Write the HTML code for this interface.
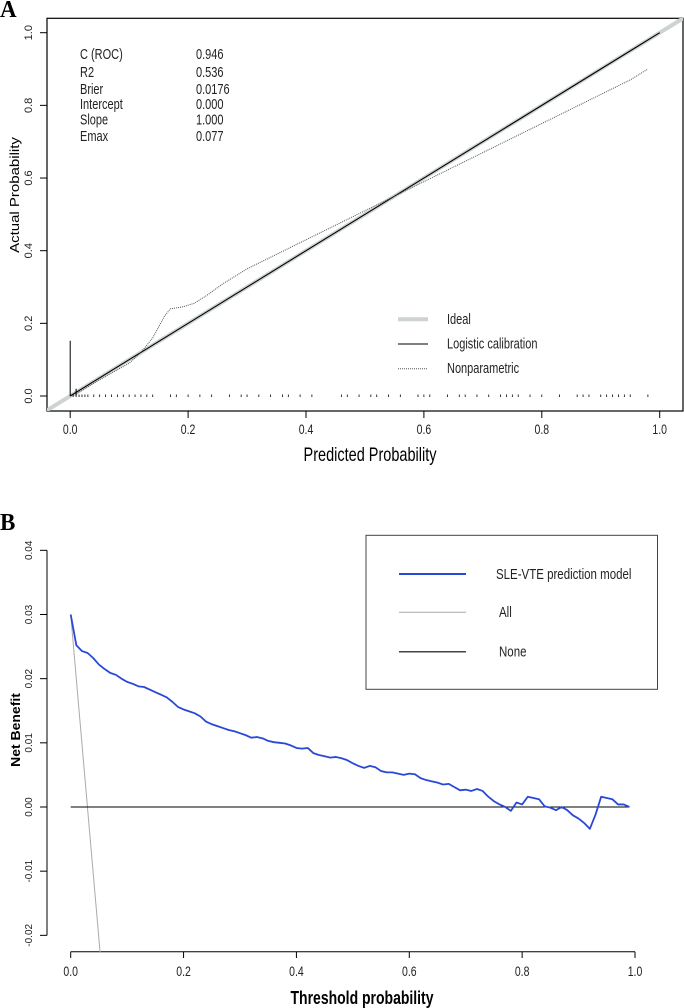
<!DOCTYPE html>
<html><head><meta charset="utf-8"><style>
body{margin:0;background:#fff;width:684px;height:1008px;overflow:hidden}
svg{display:block}
text{font-family:"Liberation Sans",Arial,sans-serif}
</style></head><body>
<svg id="s" width="684" height="1008" viewBox="0 0 684 1008">
<defs>
<clipPath id="clipA"><rect x="47" y="18" width="636" height="393"/></clipPath>
<clipPath id="clipB"><rect x="47" y="530" width="637" height="422"/></clipPath>
</defs>
<text transform="translate(0,17) scale(1,1.05)" font-weight="bold" font-size="23" style="font-family:'Liberation Serif',serif">A</text>
<rect x="47" y="18.3" width="636" height="392.7" fill="none" stroke="#000" stroke-width="1.2"/>
<g id="gA"></g>
<text transform="translate(370,461) scale(1,1.35)" font-size="14.5" text-anchor="middle">Predicted Probability</text>
<text transform="translate(19,195) rotate(-90) scale(1,0.85)" font-size="15" text-anchor="middle">Actual Probability</text>
<g font-size="11" fill="#222">
<text transform="translate(80,59) scale(1,1.3)">C (ROC)</text><text transform="translate(196,59) scale(1,1.3)">0.946</text>
<text transform="translate(80,77) scale(1,1.3)">R2</text><text transform="translate(196,77) scale(1,1.3)">0.536</text>
<text transform="translate(80,94) scale(1,1.3)">Brier</text><text transform="translate(196,94) scale(1,1.3)">0.0176</text>
<text transform="translate(80,109) scale(1,1.3)">Intercept</text><text transform="translate(196,109) scale(1,1.3)">0.000</text>
<text transform="translate(80,124.5) scale(1,1.3)">Slope</text><text transform="translate(196,124.5) scale(1,1.3)">1.000</text>
<text transform="translate(80,141) scale(1,1.3)">Emax</text><text transform="translate(196,141) scale(1,1.3)">0.077</text>
</g>
<g font-size="11" fill="#222">
<line x1="398" y1="319.3" x2="428" y2="319.3" stroke="#ccd3d1" stroke-width="4"/><text transform="translate(447,324) scale(1,1.3)">Ideal</text>
<line x1="398" y1="344" x2="428" y2="344" stroke="#000" stroke-width="1"/><text transform="translate(447,348.5) scale(1,1.3)">Logistic calibration</text>
<line x1="398" y1="368.7" x2="428" y2="368.7" stroke="#555" stroke-width="1" stroke-dasharray="1,1"/><text transform="translate(447,373) scale(1,1.3)">Nonparametric</text>
</g>
<text transform="translate(0,530) scale(1,1.05)" font-weight="bold" font-size="23" style="font-family:'Liberation Serif',serif">B</text>
<g id="gB"></g>
<text transform="translate(362,1004) scale(1,1.3)" font-size="14" font-weight="bold" text-anchor="middle">Threshold probability</text>
<text transform="translate(20,730) rotate(-90) scale(1,0.9)" font-size="14" font-weight="bold" text-anchor="middle">Net Benefit</text>
<g font-size="11.5" fill="#222">
<rect x="366" y="535.3" width="291.5" height="154" fill="#fff" stroke="#444" stroke-width="1"/>
<line x1="399" y1="574" x2="466" y2="574" stroke="#2a48d8" stroke-width="2"/><text transform="translate(496,579) scale(1,1.3)">SLE-VTE prediction model</text>
<line x1="399" y1="612.3" x2="466" y2="612.3" stroke="#aaa" stroke-width="1"/><text transform="translate(499,617) scale(1,1.3)">All</text>
<line x1="399" y1="651.7" x2="466" y2="651.7" stroke="#444" stroke-width="1.5"/><text transform="translate(499,656.5) scale(1,1.3)">None</text>
</g>
</svg>
<script>
const NS="http://www.w3.org/2000/svg";
// Panel A data
const aTicks=[0,0.2,0.4,0.6,0.8,1.0];
const aTickLabels=["0.0","0.2","0.4","0.6","0.8","1.0"];
const nonparX=[0.01,0.05,0.1,0.12,0.14,0.16,0.17,0.19,0.21,0.23,0.26,0.3,0.35,0.4,0.45,0.5,0.55,0.6,0.65,0.7,0.75,0.8,0.85,0.9,0.95,0.98];
const nonparY=[0.005,0.045,0.09,0.12,0.16,0.22,0.24,0.245,0.255,0.275,0.31,0.35,0.39,0.43,0.47,0.51,0.55,0.59,0.63,0.67,0.71,0.75,0.79,0.83,0.87,0.9];
const rugX=[0.005,0.01,0.015,0.02,0.025,0.03,0.04,0.05,0.06,0.07,0.08,0.09,0.1,0.11,0.12,0.13,0.14,0.17,0.18,0.2,0.22,0.24,0.27,0.29,0.3,0.32,0.34,0.36,0.37,0.39,0.41,0.46,0.47,0.49,0.51,0.52,0.54,0.56,0.59,0.6,0.61,0.64,0.66,0.67,0.69,0.71,0.73,0.74,0.75,0.76,0.78,0.8,0.83,0.86,0.87,0.88,0.9,0.91,0.92,0.93,0.94,0.95,0.98];
const xA=v=>70.2+v*589.5, yA=v=>396-v*363.3;
// Panel B data
const bXTicks=[0,0.2,0.4,0.6,0.8,1.0];
const bXLabels=["0.0","0.2","0.4","0.6","0.8","1.0"];
const bYTicks=[-0.02,-0.01,0,0.01,0.02,0.03,0.04];
const bYLabels=["-0.02","-0.01","0.00","0.01","0.02","0.03","0.04"];
const thresholds=[0,0.01,0.02,0.03,0.04,0.05,0.06,0.07,0.08,0.09,0.1,0.11,0.12,0.13,0.14,0.15,0.16,0.17,0.18,0.19,0.2,0.21,0.22,0.23,0.24,0.25,0.26,0.27,0.28,0.29,0.3,0.31,0.32,0.33,0.34,0.35,0.36,0.37,0.38,0.39,0.4,0.41,0.42,0.43,0.44,0.45,0.46,0.47,0.48,0.49,0.5,0.51,0.52,0.53,0.54,0.55,0.56,0.57,0.58,0.59,0.6,0.61,0.62,0.63,0.64,0.65,0.66,0.67,0.68,0.69,0.7,0.71,0.72,0.73,0.74,0.75,0.76,0.77,0.78,0.79,0.8,0.81,0.82,0.83,0.84,0.85,0.86,0.87,0.88,0.89,0.9,0.91,0.92,0.93,0.94,0.95,0.96,0.97,0.98,0.99];
const modelNB=[0.030,0.0252,0.0243,0.024,0.0232,0.0222,0.0215,0.0209,0.0206,0.02,0.0195,0.0192,0.0188,0.0187,0.0183,0.0179,0.0175,0.0171,0.0164,0.0156,0.0152,0.0149,0.0146,0.0141,0.0133,0.0129,0.0126,0.0123,0.012,0.0118,0.0115,0.0112,0.0108,0.0109,0.0107,0.0103,0.0101,0.01,0.0099,0.0096,0.0092,0.0091,0.0092,0.0084,0.0081,0.0079,0.0077,0.0078,0.0076,0.0073,0.0068,0.0064,0.0061,0.0064,0.0062,0.0056,0.0054,0.0054,0.0052,0.005,0.0052,0.0051,0.0045,0.0042,0.004,0.0038,0.0035,0.0036,0.0031,0.0026,0.0027,0.0025,0.0028,0.0025,0.0016,0.0009,0.0004,0.0,-0.0006,0.0007,0.0004,0.0016,0.0014,0.0012,0.0001,-0.0001,-0.0005,0.0,-0.0005,-0.0013,-0.0018,-0.0025,-0.0034,-0.0012,0.0016,0.0014,0.0012,0.0004,0.0004,0.0];
const allX=[0,0.052];
const allNB=[0.030,-0.0226];
const noneX=[0,0.99];
const noneNB=[0,0];
const xB=v=>70.7+v*564.3, yB=v=>807-v*6417;

function mk(tag,attrs,parent){const e=document.createElementNS(NS,tag);for(const k in attrs)e.setAttribute(k,attrs[k]);parent.appendChild(e);return e;}
const gA=document.getElementById('gA'), gB=document.getElementById('gB');

// Panel A axes
aTicks.forEach((t,i)=>{
  let l=mk('line',{x1:xA(t),x2:xA(t),y1:411,y2:418,stroke:'#000'},gA);
  
  
  let tx=mk('text',{transform:`translate(${xA(t)},434) scale(1,1.3)`,'font-size':10.5,'text-anchor':'middle',fill:'#222'},gA);tx.textContent=aTickLabels[i];
  
  
  let l2=mk('line',{x1:40,x2:47,y1:yA(t),y2:yA(t),stroke:'#000'},gA);
  
  
  let ty=mk('text',{transform:`translate(32,${yA(t)}) rotate(-90)`,'font-size':11,'text-anchor':'middle',fill:'#222'},gA);ty.textContent=aTickLabels[i];
  
  
});
const cA=mk('g',{'clip-path':'url(#clipA)'},gA);
let ideal=mk('line',{x1:xA(-0.2),y1:yA(-0.2),x2:xA(1.2),y2:yA(1.2),stroke:'#ccd3d1','stroke-width':4},cA);


let logi=mk('line',{x1:xA(0),y1:yA(0),x2:xA(1),y2:yA(1),stroke:'#000','stroke-width':1.1},cA);


let np=mk('polyline',{points:nonparX.map((x,i)=>xA(x)+','+yA(nonparY[i])).join(' '),fill:'none',stroke:'#555','stroke-width':1,'stroke-dasharray':'1,1'},cA);


let spike=mk('line',{x1:xA(0),x2:xA(0),y1:yA(0),y2:yA(0.152),stroke:'#000','stroke-width':1},cA);


let spike2=mk('line',{x1:xA(0.01),x2:xA(0.01),y1:yA(0),y2:yA(0.02),stroke:'#000','stroke-width':1},cA);


rugX.forEach(x=>{
  let r=mk('line',{x1:xA(x),x2:xA(x),y1:yA(0)-1.5,y2:yA(0)+1,stroke:'#000','stroke-width':0.8},cA);
  
  
});

// Panel B axes
let xAx=mk('line',{x1:xB(0),x2:xB(1),y1:951.7,y2:951.7,stroke:'#000'},gB);


let yAx=mk('line',{x1:47,x2:47,y1:yB(0.04),y2:yB(-0.02),stroke:'#000'},gB);


bXTicks.forEach((t,i)=>{
  let l=mk('line',{x1:xB(t),x2:xB(t),y1:951.7,y2:958,stroke:'#000'},gB);
  
  
  let tx=mk('text',{transform:`translate(${xB(t)},976) scale(1,1.3)`,'font-size':10.5,'text-anchor':'middle',fill:'#222'},gB);tx.textContent=bXLabels[i];
  
  
});
bYTicks.forEach((t,i)=>{
  let l=mk('line',{x1:40,x2:47,y1:yB(t),y2:yB(t),stroke:'#000'},gB);
  
  
  let ty=mk('text',{transform:`translate(32,${yB(t)}) rotate(-90)`,'font-size':10,'text-anchor':'middle',fill:'#222'},gB);ty.textContent=bYLabels[i];
  
  
});
const cB=mk('g',{'clip-path':'url(#clipB)'},gB);
let allL=mk('polyline',{points:allX.map((x,i)=>xB(x)+','+yB(allNB[i])).join(' '),fill:'none',stroke:'#aaa','stroke-width':1},cB);


let noneL=mk('polyline',{points:noneX.map((x,i)=>xB(x)+','+yB(noneNB[i])).join(' '),fill:'none',stroke:'#000','stroke-width':1.1},cB);


let modelL=mk('polyline',{points:thresholds.map((x,i)=>xB(x)+','+yB(modelNB[i])).join(' '),fill:'none',stroke:'#2a48d8','stroke-width':1.8,'stroke-linejoin':'round'},cB);


</script>
</body></html>
